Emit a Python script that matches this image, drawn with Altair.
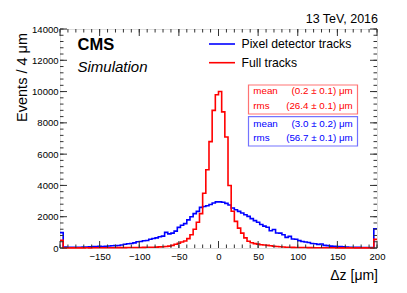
import altair as alt
import pandas as pd

# 4 um bins from -200 to 200 (left edges)
bin_lo = list(range(-200, 200, 4))

pixel_tracks = [980, 60, 50, 50, 45, 50, 50, 55, 60, 70,
                90, 100, 110, 100, 115, 130, 140, 150, 160, 190,
                240, 270, 290, 330, 400, 420, 460, 480, 560, 610,
                650, 720, 760, 1000, 900, 950, 1080, 1320, 1450, 1560,
                1800, 2000, 2200, 2340, 2600, 2650, 2700, 2780, 2880, 2950,
                2950, 2920, 2850, 2750, 2560, 2450, 2340, 2240, 2130, 2020,
                1880, 1750, 1650, 1500, 1400, 1330, 1100, 1180, 960, 950,
                850, 680, 740, 580, 560, 470, 420, 380, 350, 290,
                270, 230, 260, 170, 150, 120, 110, 100, 90, 80,
                60, 50, 50, 40, 40, 35, 30, 30, 30, 1230]

full_tracks = [490, 10, 8, 8, 10, 8, 10, 10, 12, 10,
               12, 12, 15, 15, 15, 18, 20, 20, 22, 25,
               25, 28, 30, 30, 35, 35, 40, 45, 45, 50,
               55, 70, 80, 100, 120, 170, 240, 300, 380, 450,
               600, 850, 1200, 1650, 2200, 3500, 5000, 6800, 8800, 9800,
               10000, 8700, 7100, 4000, 2350, 1700, 1270, 950, 650, 430,
               340, 280, 250, 210, 190, 170, 140, 110, 95, 80,
               65, 50, 45, 40, 35, 32, 30, 28, 25, 22,
               20, 18, 16, 15, 14, 12, 12, 10, 10, 10,
               9, 8, 8, 8, 8, 7, 7, 7, 7, 550]

series_names = ["Pixel detector tracks", "Full tracks"]
series_colors = ["#0000ff", "#ff0000"]

x_labels = [-150, -100, -50, 0, 50, 100, 150, 200]
y_labels = [0, 2000, 4000, 6000, 8000, 10000, 12000, 14000]
x_major = list(range(-200, 201, 50))
x_minor = list(range(-200, 201, 10))
y_major = list(range(0, 14001, 2000))
y_minor = list(range(0, 14001, 400))

W, H = 317, 219
FONT = "Liberation Sans"

rows = []
for name, vals in zip(series_names, [pixel_tracks, full_tracks]):
    for lo, v in zip(bin_lo, vals):
        rows.append({"z": lo, "n": v, "s": name})
    rows.append({"z": 200, "n": vals[-1], "s": name})
df = pd.DataFrame(rows)

xs = alt.Scale(domain=[-200, 200], nice=False, zero=False)
ys = alt.Scale(domain=[0, 14000], nice=False)

x_axis = alt.Axis(values=x_labels, ticks=False, tickSize=0, domain=False, grid=False,
                  labelFont=FONT, labelFontSize=9.5, labelColor="#000", format="d",
                  labelPadding=3, title=None, labelFlush=False)
y_axis = alt.Axis(values=y_labels, ticks=False, tickSize=0, domain=False, grid=False,
                  labelFont=FONT, labelFontSize=9.5, labelColor="#000", format="d",
                  labelPadding=2, title=None, labelFlush=False)

hist = alt.Chart(df).mark_line(interpolate="step-after", strokeWidth=1.6).encode(
    x=alt.X("z:Q", scale=xs, axis=x_axis),
    y=alt.Y("n:Q", scale=ys, axis=y_axis),
    color=alt.Color("s:N", scale=alt.Scale(domain=series_names, range=series_colors), legend=None),
    detail="s:N",
)

def xticks(vals, length, top):
    d = pd.DataFrame({"z": vals})
    if top:
        enc = dict(y=alt.value(0), y2=alt.value(length))
    else:
        enc = dict(y=alt.value(H), y2=alt.value(H - length))
    return alt.Chart(d).mark_rule(color="#333", strokeWidth=1).encode(
        x=alt.X("z:Q", scale=xs, axis=x_axis), **enc)

def yticks(vals, length, right):
    d = pd.DataFrame({"n": vals})
    if right:
        enc = dict(x=alt.value(W), x2=alt.value(W - length))
    else:
        enc = dict(x=alt.value(0), x2=alt.value(length))
    return alt.Chart(d).mark_rule(color="#333", strokeWidth=1).encode(
        y=alt.Y("n:Q", scale=ys, axis=y_axis), **enc)

ticks = [xticks(x_major, 7, False), xticks(x_minor, 3.5, False),
         xticks(x_major, 7, True), xticks(x_minor, 3.5, True),
         yticks(y_major, 7, False), yticks(y_minor, 3.5, False),
         yticks(y_major, 7, True), yticks(y_minor, 3.5, True)]

base = alt.Chart(pd.DataFrame({"a": [0]}))

def txt(s, x, y, size, color="#000", align="left", weight="normal", style="normal", angle=0):
    return base.mark_text(text=s, align=align, baseline="alphabetic", font=FONT, fontSize=size,
                          color=color, fontWeight=weight, fontStyle=style, angle=angle).encode(
        x=alt.value(x), y=alt.value(y))

def seg(x1, x2, y, color):
    return base.mark_rule(color=color, strokeWidth=1.6).encode(
        x=alt.value(x1), x2=alt.value(x2), y=alt.value(y))

def box(x1, x2, y1, y2, color):
    return base.mark_rect(fill=None, stroke=color, strokeWidth=1.2, strokeOpacity=0.55).encode(
        x=alt.value(x1), x2=alt.value(x2), y=alt.value(y1), y2=alt.value(y2))

annot = [
    txt("CMS", 17.5, 21, 16.5, weight="bold"),
    txt("Simulation", 17.5, 42.5, 15, style="italic"),
    txt("13 TeV, 2016", 318, -6.3, 12.5, align="right"),
    txt("Events / 4 μm", -33, 4, 14.5, align="right", angle=270),
    txt("Δz [μm]", 318, 250.5, 14, align="right"),
    seg(149, 175, 15, series_colors[0]),
    seg(149, 175, 33.7, series_colors[1]),
    txt(series_names[0], 181.5, 19.3, 12.2),
    txt(series_names[1], 181.5, 37.7, 12.2),
    box(188.5, 297.5, 56, 85, "#ff0000"),
    box(188.5, 297.5, 87.7, 117, "#0000ff"),
    txt("mean", 193.3, 65.3, 9.8, color="#ff0000"),
    txt("rms", 193.3, 80.3, 9.8, color="#ff0000"),
    txt("(0.2 ± 0.1) μm", 292.7, 65.3, 9.8, color="#ff0000", align="right"),
    txt("(26.4 ± 0.1) μm", 292.7, 80.3, 9.8, color="#ff0000", align="right"),
    txt("mean", 193.3, 97.7, 9.8, color="#0000ff"),
    txt("rms", 193.3, 112, 9.8, color="#0000ff"),
    txt("(3.0 ± 0.2) μm", 292.7, 97.7, 9.8, color="#0000ff", align="right"),
    txt("(56.7 ± 0.1) μm", 292.7, 112, 9.8, color="#0000ff", align="right"),
]

chart = alt.layer(hist, *ticks, *annot).properties(
    width=W, height=H,
    autosize=alt.AutoSizeParams(type="none"),
    padding={"left": 52, "top": 21, "right": 22, "bottom": 37},
).configure_view(stroke="#333", strokeWidth=1).configure(background="white")

chart.save("out.html", embed_options={"renderer": "svg", "actions": False})
